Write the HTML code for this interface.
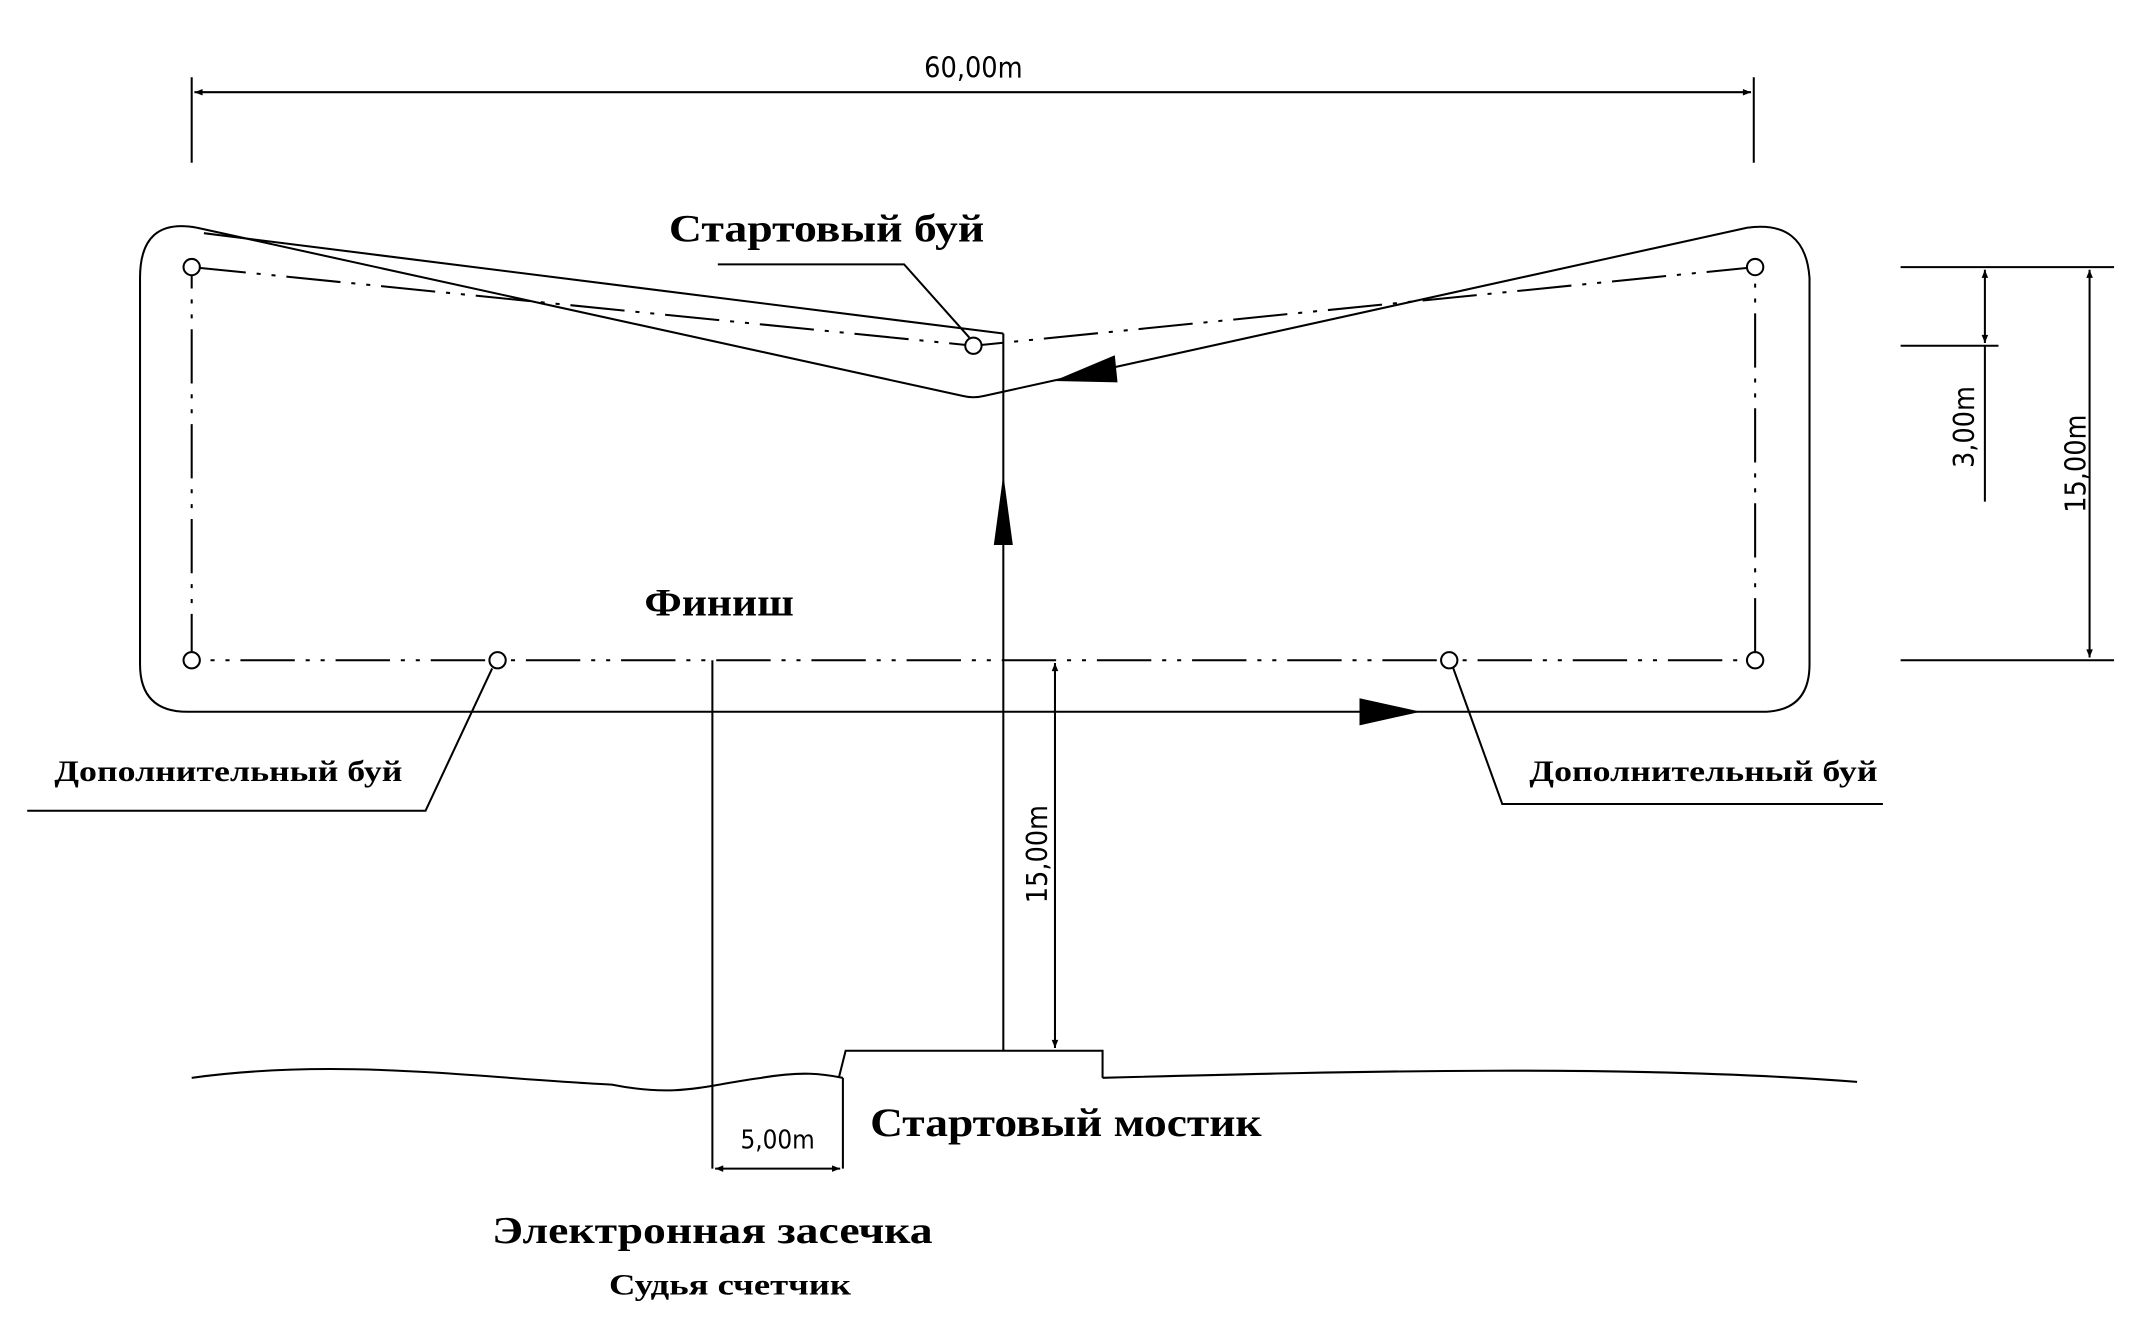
<!DOCTYPE html>
<html><head><meta charset="utf-8"><style>
html,body{margin:0;padding:0;background:#fff;}
svg{display:block;}
text{font-family:"Liberation Serif",serif;fill:#000;}
.s text{font-family:"DejaVu Sans Condensed","DejaVu Sans","Liberation Sans",sans-serif;}
</style></head><body>
<svg width="2129" height="1330" viewBox="0 0 1566 981" preserveAspectRatio="none" xmlns="http://www.w3.org/2000/svg">
<defs>
<marker id="a" viewBox="0 0 10 10" refX="10" refY="5" markerWidth="10" markerHeight="6" orient="auto-start-reverse" markerUnits="userSpaceOnUse"><path d="M0,1 L10,5 L0,9 z"/></marker>
</defs>
<g stroke="#000" fill="none" stroke-width="1.5">
<line x1="141" y1="57" x2="141" y2="120"/>
<line x1="1290" y1="57" x2="1290" y2="120"/>
<line x1="143" y1="68" x2="1288" y2="68" marker-start="url(#a)" marker-end="url(#a)"/>
<path d="M145,168 L708,292 Q716,294 724,292 L1285,168 Q1328,162 1331,205 L1331,490 Q1331,525 1296,525 L138,525 Q103,525 103,490 L103,205 Q103,160 145,168 Z"/>
<line x1="150" y1="172" x2="738" y2="246"/>
<line x1="738" y1="246" x2="738" y2="775"/>
<g stroke-dasharray="40,8,3,8,3,8">
<polyline points="141,197 716,255 1291,197 1291,487 141,487 141,197"/>
</g>
<g fill="#fff">
<circle cx="141" cy="197" r="6"/><circle cx="716" cy="255" r="6"/><circle cx="1291" cy="197" r="6"/>
<circle cx="141" cy="487" r="6"/><circle cx="366" cy="487" r="6"/><circle cx="1066" cy="487" r="6"/><circle cx="1291" cy="487" r="6"/>
</g>
<polyline points="528,195 665,195 713,249"/>
<polyline points="20,598 313,598 362,493"/>
<polyline points="1385,593 1105,593 1069,493"/>
<line x1="1398" y1="197" x2="1555" y2="197"/>
<line x1="1398" y1="255" x2="1470" y2="255"/>
<line x1="1398" y1="487" x2="1555" y2="487"/>
<line x1="1460" y1="199" x2="1460" y2="253" marker-start="url(#a)" marker-end="url(#a)"/>
<line x1="1460" y1="255" x2="1460" y2="370"/>
<line x1="1537" y1="199" x2="1537" y2="485" marker-start="url(#a)" marker-end="url(#a)"/>
<line x1="776" y1="489" x2="776" y2="773" marker-start="url(#a)" marker-end="url(#a)"/>
<line x1="524" y1="487" x2="524" y2="862"/>
<polyline points="617,795 622,775 811,775 811,795"/>
<path d="M141,795 C250,780 350,795 450,800 C500,810 520,800 560,795 C590,790 605,792 620,795 M811,795 C1000,790 1200,785 1366,798"/>
<line x1="620" y1="795" x2="620" y2="862"/>
<line x1="526" y1="862" x2="618" y2="862" marker-start="url(#a)" marker-end="url(#a)"/>
</g>
<path d="M738,350 L731,402 L745,402 Z"/>
<path d="M1045,525 L1000,515 L1000,535 Z"/>
<path d="M775,281 L820,262 L822,282 Z"/>
<g class="s" font-size="21">
<text x="716" y="57" text-anchor="middle">60,00m</text>
<text transform="translate(1452,315) rotate(-90)" text-anchor="middle">3,00m</text>
<text transform="translate(1534,342) rotate(-90)" text-anchor="middle">15,00m</text>
<text transform="translate(770,630) rotate(-90)" text-anchor="middle">15,00m</text>
<text x="572" y="847" text-anchor="middle" font-size="19">5,00m</text>
</g>
<g font-weight="bold" lengthAdjust="spacingAndGlyphs">
<text x="492" y="178" font-size="29" textLength="232" lengthAdjust="spacingAndGlyphs">Стартовый буй</text>
<text x="474" y="454" font-size="29" textLength="110" lengthAdjust="spacingAndGlyphs">Финиш</text>
<text x="40" y="576" font-size="22" textLength="256" lengthAdjust="spacingAndGlyphs">Дополнительный буй</text>
<text x="1125" y="576" font-size="22" textLength="256" lengthAdjust="spacingAndGlyphs">Дополнительный буй</text>
<text x="640" y="838" font-size="30" textLength="288" lengthAdjust="spacingAndGlyphs">Стартовый мостик</text>
<text x="362" y="917" font-size="28" textLength="324" lengthAdjust="spacingAndGlyphs">Электронная засечка</text>
<text x="448" y="955" font-size="22" textLength="178" lengthAdjust="spacingAndGlyphs">Судья счетчик</text>
</g>
</svg>
</body></html>
